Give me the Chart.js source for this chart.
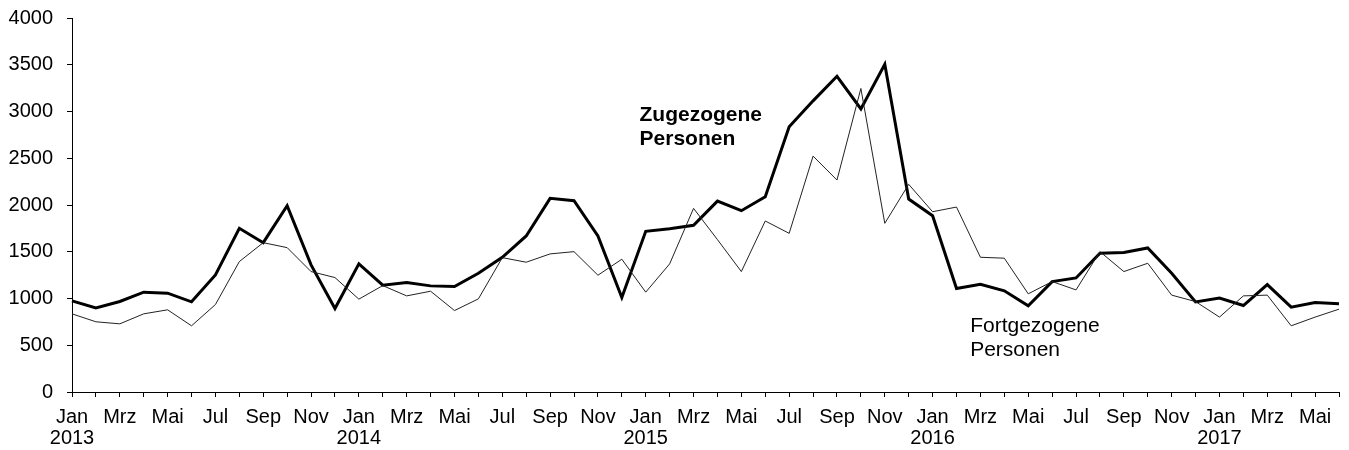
<!DOCTYPE html>
<html>
<head>
<meta charset="utf-8">
<script src="https://cdn.jsdelivr.net/npm/chart.js@4"></script>
<style>
  html, body { margin: 0; padding: 0; background: #fff; overflow: hidden; }
  #wrap { width: 1349px; height: 450px; }
</style>
</head>
<body>
<div id="wrap"><canvas id="chart"></canvas></div>
<script>
'use strict';

// months Jan 2013 .. Jun 2017, a label every second month
const monthNames = ['Jan', '', 'Mrz', '', 'Mai', '', 'Jul', '', 'Sep', '', 'Nov', ''];
const years = [2013, 2014, 2015, 2016, 2017];
const monthCount = 54;

const zugezogen = [
    975, 900, 968, 1068, 1057, 964, 1252, 1751, 1597, 1992, 1359, 893,
    1370, 1142, 1170, 1135, 1128, 1270, 1441, 1669, 2071, 2046, 1669, 1010,
    1719, 1747, 1783, 2042, 1939, 2089, 2836, 3114, 3377, 3028, 3505, 2064,
    1886, 1106, 1153, 1082, 921, 1181, 1220, 1484, 1491, 1541, 1270, 964,
    1004, 925, 1149, 907, 957, 943
];

const fortgezogen = [
    836, 751, 729, 836, 879, 708, 935, 1395, 1597, 1544, 1288, 1224,
    993, 1138, 1028, 1078, 871, 996, 1437, 1388, 1477, 1501, 1249, 1420,
    1068, 1370, 1964, 1630, 1288, 1829, 1697, 2523, 2267, 3246, 1804, 2221,
    1928, 1978, 1441, 1431, 1050, 1181, 1092, 1501, 1288, 1377, 1036, 967,
    801, 1028, 1036, 708, 801, 886
];

const yTicks = [0, 500, 1000, 1500, 2000, 2500, 3000, 3500, 4000];

// series labels: [month index, value at baseline, lines, bold]
const seriesNotes = [
    { index: 23.74, value: 2897, lines: ['Zugezogene', 'Personen'], bold: true },
    { index: 37.57, value: 647, lines: ['Fortgezogene', 'Personen'], bold: false }
];

const labels = [];
for (let i = 0; i < monthCount; i++) {
    const m = i % 12;
    if (m === 0) labels.push([monthNames[m], String(years[Math.floor(i / 12)])]);
    else labels.push(monthNames[m]);
}

const FONT = '"Liberation Sans", Arial, sans-serif';

const notesPlugin = {
    id: 'notes',
    afterDatasetsDraw(chart) {
        const ctx = chart.ctx;
        const x = chart.scales.x;
        const y = chart.scales.y;
        ctx.save();
        ctx.fillStyle = '#000';
        ctx.textAlign = 'left';
        ctx.textBaseline = 'alphabetic';
        seriesNotes.forEach(n => {
            ctx.font = (n.bold ? 'bold ' : '') + '21px ' + FONT;
            const px = x.getPixelForValue(n.index);
            const py = y.getPixelForValue(n.value);
            n.lines.forEach((line, k) => ctx.fillText(line, px, py + k * 24));
        });
        ctx.restore();
    }
};

new Chart(document.getElementById('chart').getContext('2d'), {
    type: 'line',
    data: {
        labels: labels,
        datasets: [
            {
                label: 'Fortgezogene Personen',
                data: fortgezogen,
                borderColor: '#222',
                borderWidth: 1,
                pointRadius: 0,
                tension: 0,
                fill: false
            },
            {
                label: 'Zugezogene Personen',
                data: zugezogen,
                borderColor: '#000',
                borderWidth: 3,
                pointRadius: 0,
                tension: 0,
                fill: false
            }
        ]
    },
    options: {
        responsive: true,
        maintainAspectRatio: false,
        animation: false,
        layout: { padding: { top: 18, right: 8, left: 0, bottom: 0 } },
        plugins: { legend: { display: false }, tooltip: { enabled: false } },
        scales: {
            x: {
                offset: false,
                border: { display: true, color: '#000', width: 1 },
                grid: { display: true, drawOnChartArea: false, drawTicks: true, tickLength: 5, tickColor: '#000' },
                ticks: {
                    autoSkip: false,
                    maxRotation: 0,
                    minRotation: 0,
                    padding: 10,
                    color: '#000',
                    font: { family: FONT, size: 20, lineHeight: 1.05 }
                },
                afterFit(scale) { scale.height = 58; }
            },
            y: {
                min: 0,
                max: 4000,
                afterBuildTicks(scale) { scale.ticks = yTicks.map(v => ({ value: v })); },
                border: { display: true, color: '#000', width: 1 },
                grid: { display: true, drawOnChartArea: false, drawTicks: true, tickLength: 5, tickColor: '#000' },
                ticks: {
                    padding: 14,
                    color: '#000',
                    font: { family: FONT, size: 20, lineHeight: 0.5 },
                    callback: v => String(v)
                },
                afterFit(scale) {
                    scale.width = 72;
                    scale.paddingTop = 0;
                    scale.paddingBottom = 0;
                }
            }
        }
    },
    plugins: [notesPlugin]
});
</script>
</body>
</html>
